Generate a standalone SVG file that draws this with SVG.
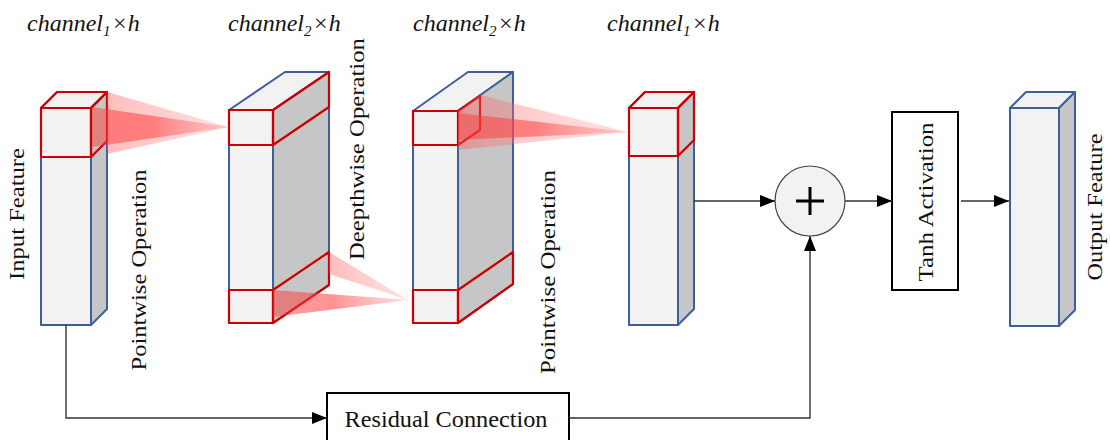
<svg xmlns="http://www.w3.org/2000/svg" width="1110" height="440" viewBox="0 0 1110 440">
<defs>
<style>
.front{fill:#f2f2f2;stroke:#3d5f9e;stroke-width:2;stroke-linejoin:round}
.top{fill:#f2f2f2;stroke:#3d5f9e;stroke-width:2;stroke-linejoin:round}
.side{fill:#c6c6c6;stroke:#3d5f9e;stroke-width:2;stroke-linejoin:round}
.red{fill:none;stroke:#cc0000;stroke-width:2.2;stroke-linejoin:round}
.lbl{font-family:"Liberation Serif","Times New Roman",serif;font-size:22px;fill:#111}
.ch{font-family:"Liberation Serif","Times New Roman",serif;font-size:24px;font-style:italic;fill:#111}
.conn{fill:none;stroke:#333;stroke-width:1.4}
.box{fill:#fff;stroke:#000;stroke-width:2}
</style>
<linearGradient id="pale" x1="0" y1="0" x2="1" y2="0">
<stop offset="0" stop-color="#ff5a5a" stop-opacity="0.4"/>
<stop offset="1" stop-color="#ff9a9a" stop-opacity="0.3"/>
</linearGradient>
<linearGradient id="deep" x1="0" y1="0" x2="1" y2="0">
<stop offset="0" stop-color="#ff3030" stop-opacity="0.45"/>
<stop offset="0.45" stop-color="#ff4a4a" stop-opacity="0.6"/>
<stop offset="1" stop-color="#ff8a8a" stop-opacity="0.3"/>
</linearGradient>
<marker id="arr" markerUnits="userSpaceOnUse" markerWidth="15" markerHeight="12" refX="15" refY="6" orient="auto">
<path d="M0,0 L15,6 L0,12 z" fill="#000"/>
</marker>
</defs>
<rect width="1110" height="440" fill="#fff"/>

<g id="labels-top">
<text class="ch" x="27" y="31">channel<tspan font-size="15" dy="5">1</tspan><tspan dy="-5" dx="1">×h</tspan></text>
<text class="ch" x="228" y="31">channel<tspan font-size="15" dy="5">2</tspan><tspan dy="-5" dx="1">×h</tspan></text>
<text class="ch" x="413" y="31">channel<tspan font-size="15" dy="5">2</tspan><tspan dy="-5" dx="1">×h</tspan></text>
<text class="ch" x="607" y="31">channel<tspan font-size="15" dy="5">1</tspan><tspan dy="-5" dx="1">×h</tspan></text>
</g>

<g id="input-feature">
<rect class="front" x="41" y="108" width="50" height="217"/>
<polygon class="top" points="41,108 57,92 107,92 91,108"/>
<polygon class="side" points="91,108 107,92 107,309 91,325"/>
<rect class="red" x="41" y="108" width="50" height="49"/>
<polygon class="red" points="41,108 57,92 107,92 91,108"/>
<polygon class="red" points="91,108 107,92 107,141 91,157"/>
<text class="lbl" transform="translate(24,214) rotate(-90)" text-anchor="middle" textLength="132" lengthAdjust="spacingAndGlyphs">Input Feature</text>
</g>

<g id="pointwise-block">
<rect class="front" x="229" y="110" width="44" height="213"/>
<polygon class="top" points="229,110 285,72 329,72 273,110"/>
<polygon class="side" points="273,110 329,72 329,285 273,323"/>
<rect class="red" x="229" y="110" width="44" height="35"/>
<polygon class="red" points="273,110 329,72 329,107 273,145"/>
<rect class="red" x="229" y="290" width="44" height="33"/>
<polygon class="red" points="273,290 329,252 329,285 273,323"/>
</g>

<g id="depthwise-block">
<rect class="front" x="413" y="111" width="45" height="212"/>
<polygon class="top" points="413,111 468,72 513,72 458,111"/>
<polygon class="side" points="458,111 513,72 513,284 458,323"/>
<rect class="red" x="413" y="111" width="45" height="34"/>
<polyline class="red" points="458,111 480,96 480,130 458,145"/>
<rect class="red" x="413" y="290" width="45" height="33"/>
<polygon class="red" points="458,290 513,252 513,284 458,323"/>
</g>

<g id="pointwise-out-block">
<rect class="front" x="629" y="108" width="49" height="217"/>
<polygon class="top" points="629,108 645,92 694,92 678,108"/>
<polygon class="side" points="678,108 694,92 694,309 678,325"/>
<rect class="red" x="629" y="108" width="49" height="48"/>
<polygon class="red" points="629,108 645,92 694,92 678,108"/>
<polygon class="red" points="678,108 694,92 694,140 678,156"/>
</g>

<g id="projections">
<polygon fill="url(#pale)" points="107,92 229,127 107,154"/>
<polygon fill="url(#deep)" points="92,107 229,127 92,147"/>
<polygon fill="url(#pale)" points="329,252 408,300 329,274"/>
<polygon fill="url(#deep)" points="273,290 408,300 273,317"/>
<polygon fill="url(#pale)" points="458,111 480,95 628,132 458,150"/>
<polygon fill="url(#deep)" points="458,113 628,132 458,140"/>
</g>

<g id="op-labels">
<text class="lbl" transform="translate(146,270) rotate(-90)" text-anchor="middle" textLength="201" lengthAdjust="spacingAndGlyphs">Pointwise Operation</text>
<text class="lbl" transform="translate(364,149) rotate(-90)" text-anchor="middle" textLength="222" lengthAdjust="spacingAndGlyphs">Deepthwise Operation</text>
<text class="lbl" transform="translate(555,272) rotate(-90)" text-anchor="middle" textLength="204" lengthAdjust="spacingAndGlyphs">Pointwise Operation</text>
</g>

<g id="add-node">
<circle cx="810" cy="201" r="35" fill="#f2f2f2" stroke="#444" stroke-width="1.2"/>
<path d="M796,201 H824 M810,187 V215" stroke="#000" stroke-width="3"/>
</g>

<g id="tanh-activation">
<rect class="box" x="892" y="112" width="66" height="178"/>
<text class="lbl" transform="translate(933,202) rotate(-90)" text-anchor="middle" textLength="159" lengthAdjust="spacingAndGlyphs">Tanh Activation</text>
</g>

<g id="output-feature">
<rect class="front" x="1010" y="108" width="49" height="218"/>
<polygon class="top" points="1010,108 1026,92 1075,92 1059,108"/>
<polygon class="side" points="1059,108 1075,92 1075,310 1059,326"/>
<text class="lbl" transform="translate(1102,207) rotate(-90)" text-anchor="middle" textLength="147" lengthAdjust="spacingAndGlyphs">Output Feature</text>
</g>

<g id="residual-connection">
<rect class="box" x="327" y="393" width="242" height="55"/>
<text x="446" y="427" text-anchor="middle" font-family="Liberation Serif, Times New Roman, serif" font-size="24" fill="#111" textLength="203" lengthAdjust="spacingAndGlyphs">Residual Connection</text>
</g>

<g id="connectors">
<line class="conn" x1="694" y1="201" x2="775" y2="201" marker-end="url(#arr)"/>
<line class="conn" x1="845" y1="201" x2="892" y2="201" marker-end="url(#arr)"/>
<line class="conn" x1="961" y1="201" x2="1009" y2="201" marker-end="url(#arr)"/>
<path class="conn" d="M66,325 V418 H327" marker-end="url(#arr)"/>
<path class="conn" d="M569,418 H810 V236" marker-end="url(#arr)"/>
</g>
</svg>
